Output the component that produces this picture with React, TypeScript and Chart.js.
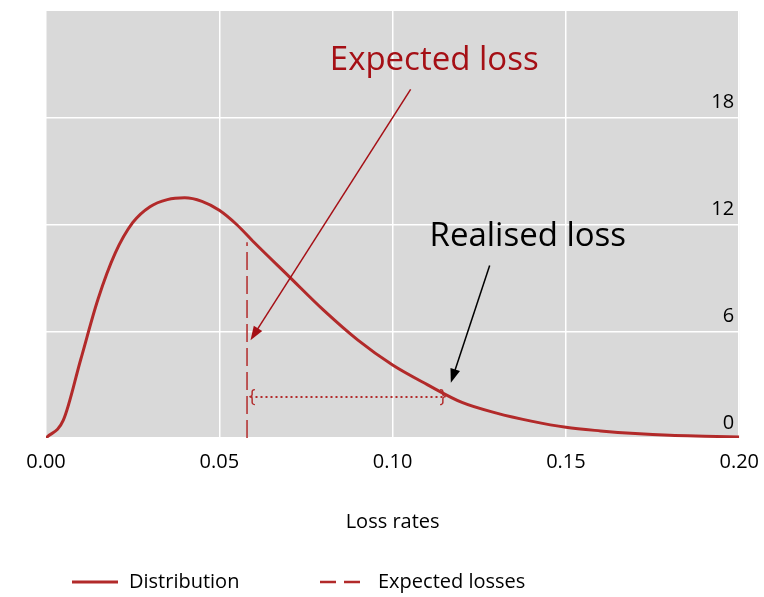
import { useEffect, useRef } from 'react';
import Chart from 'chart.js/auto';

const lossRates = [0, 0.005, 0.01, 0.015, 0.02, 0.025, 0.03, 0.035, 0.04, 0.045, 0.05, 0.055, 0.06, 0.07, 0.08, 0.09, 0.1, 0.11, 0.12, 0.13, 0.14, 0.15, 0.16, 0.17, 0.18, 0.19, 0.2];
const density = [0, 1.0, 4.4, 7.8, 10.4, 12.1, 13.0, 13.4, 13.5, 13.3, 12.8, 12.0, 11.0, 9.1, 7.2, 5.5, 4.1, 3.0, 2.0, 1.4, 0.95, 0.6, 0.4, 0.25, 0.15, 0.1, 0.06];
const expectedLoss = 0.058;
const expectedHeight = 11.0;
const realisedLoss = 0.116;
const gapLevel = 2.3;
const yTicks = [0, 6, 12, 18];

const RED = '#b22a2a';
const FONT = '"Open Sans", "Noto Sans", sans-serif';

function arrow(ctx: CanvasRenderingContext2D, x1: number, y1: number, x2: number, y2: number, color: string) {
  const a = Math.atan2(y2 - y1, x2 - x1);
  ctx.save();
  ctx.strokeStyle = color;
  ctx.fillStyle = color;
  ctx.lineWidth = 1.5;
  ctx.beginPath();
  ctx.moveTo(x1, y1);
  ctx.lineTo(x2 - 8 * Math.cos(a), y2 - 8 * Math.sin(a));
  ctx.stroke();
  ctx.beginPath();
  ctx.moveTo(x2, y2);
  ctx.lineTo(x2 - 14 * Math.cos(a) + 5 * Math.sin(a), y2 - 14 * Math.sin(a) - 5 * Math.cos(a));
  ctx.lineTo(x2 - 14 * Math.cos(a) - 5 * Math.sin(a), y2 - 14 * Math.sin(a) + 5 * Math.cos(a));
  ctx.closePath();
  ctx.fill();
  ctx.restore();
}

export default function App() {
  const canvasRef = useRef<HTMLCanvasElement>(null);
  const chartRef = useRef<Chart | null>(null);

  useEffect(() => {
    if (!canvasRef.current) return;
    chartRef.current = new Chart(canvasRef.current, {
      type: 'line',
      data: {
        datasets: [
          {
            label: 'Distribution',
            data: lossRates.map((x, i) => ({ x, y: density[i] })),
            borderColor: RED,
            borderWidth: 3,
            pointRadius: 0,
            cubicInterpolationMode: 'monotone',
          },
          {
            label: 'Expected losses',
            data: [{ x: expectedLoss, y: 0 }, { x: expectedLoss, y: expectedHeight }],
            borderColor: RED,
            borderWidth: 1.5,
            borderDash: [18, 6],
            pointRadius: 0,
          },
          {
            label: 'gap',
            data: [{ x: expectedLoss + 0.001, y: gapLevel }, { x: realisedLoss - 0.001, y: gapLevel }],
            borderColor: RED,
            borderWidth: 2,
            borderDash: [2, 3],
            pointRadius: 0,
          },
        ],
      },
      options: {
        animation: false,
        responsive: false,
        layout: { padding: { top: 4, right: 5, left: 0, bottom: 63 } },
        plugins: { legend: { display: false }, tooltip: { enabled: false } },
        scales: {
          x: {
            type: 'linear',
            min: 0,
            max: 0.2,
            border: { display: false },
            grid: { color: '#ffffff', lineWidth: 1.5, drawTicks: false },
            ticks: { stepSize: 0.05, padding: 12, color: '#000', font: { family: FONT, size: 20 }, callback: (v) => Number(v).toFixed(2) },
            title: { display: true, text: 'Loss rates', color: '#000', font: { family: FONT, size: 20 }, padding: { top: 22, bottom: 0 } },
            afterFit: (s: any) => { s.height = 96; },
          },
          y: {
            position: 'right',
            min: 0,
            max: 24,
            afterBuildTicks: (s: any) => { s.ticks = yTicks.map((v) => ({ value: v })); },
            border: { display: false },
            grid: { color: '#ffffff', lineWidth: 1.5, drawTicks: false },
            // labels are drawn by the notes plugin, kept here only for layout
            ticks: { mirror: true, padding: 5, labelOffset: -15, color: 'rgba(0,0,0,0)', font: { family: FONT, size: 20 } },
            afterFit: (s: any) => { s.width = 0; },
          },
          yl: {
            position: 'left',
            min: 0,
            max: 24,
            border: { display: false },
            grid: { display: false },
            ticks: { display: false },
            afterFit: (s: any) => { s.width = 46; },
          },
        },
      },
      plugins: [
        {
          id: 'bg',
          beforeDraw(chart) {
            const { ctx, chartArea: a } = chart;
            ctx.save();
            ctx.fillStyle = '#d9d9d9';
            ctx.fillRect(a.left, a.top, a.right - a.left, a.bottom - a.top);
            ctx.restore();
          },
        },
        {
          id: 'notes',
          afterDraw(chart) {
            const { ctx, chartArea } = chart;
            const xs = chart.scales.x;
            const ys = chart.scales.y;
            const px = (v: number) => xs.getPixelForValue(v);
            const py = (v: number) => ys.getPixelForValue(v);
            ctx.save();
            // y tick labels inside the plot, right-aligned
            ctx.font = `20px ${FONT}`;
            ctx.fillStyle = '#000';
            ctx.textAlign = 'right';
            ctx.textBaseline = 'middle';
            yTicks.forEach((v) => ctx.fillText(String(v), chartArea.right - 5, py(v) - 15));
            ctx.textAlign = 'center';
            ctx.font = `33px ${FONT}`;
            ctx.fillStyle = '#a50f15';
            ctx.fillText('Expected loss', px(0.112), py(21.2));
            ctx.fillStyle = '#000';
            ctx.fillText('Realised loss', px(0.139), py(11.3));
            ctx.font = `18px ${FONT}`;
            ctx.fillStyle = RED;
            ctx.fillText('{', px(expectedLoss + 0.0015), py(gapLevel));
            ctx.fillText('}', px(realisedLoss - 0.0015), py(gapLevel));
            ctx.restore();
            arrow(ctx, px(0.1052), py(19.6), px(0.059), py(5.5), '#a50f15');
            arrow(ctx, px(0.128), py(9.7), px(0.1168), py(3.1), '#000');
            // legend
            const ly = 588;
            ctx.save();
            ctx.strokeStyle = RED;
            ctx.lineWidth = 3;
            ctx.beginPath();
            ctx.moveTo(72, ly);
            ctx.lineTo(118, ly);
            ctx.stroke();
            ctx.setLineDash([16, 8]);
            ctx.lineWidth = 2.5;
            ctx.beginPath();
            ctx.moveTo(320, ly);
            ctx.lineTo(368, ly);
            ctx.stroke();
            ctx.fillStyle = '#000';
            ctx.font = `20px ${FONT}`;
            ctx.textBaseline = 'middle';
            ctx.fillText('Distribution', 129, ly);
            ctx.fillText('Expected losses', 378, ly);
            ctx.restore();
          },
        },
      ],
    });
    return () => {
      chartRef.current?.destroy();
    };
  }, []);

  return (
    <div style={{ position: 'absolute', left: 0, top: 0, width: 764, height: 597, background: '#fff', overflow: 'hidden' }}>
      <canvas ref={canvasRef} width={771} height={603} style={{ position: 'absolute', left: 0, top: -6 }} />
    </div>
  );
}
